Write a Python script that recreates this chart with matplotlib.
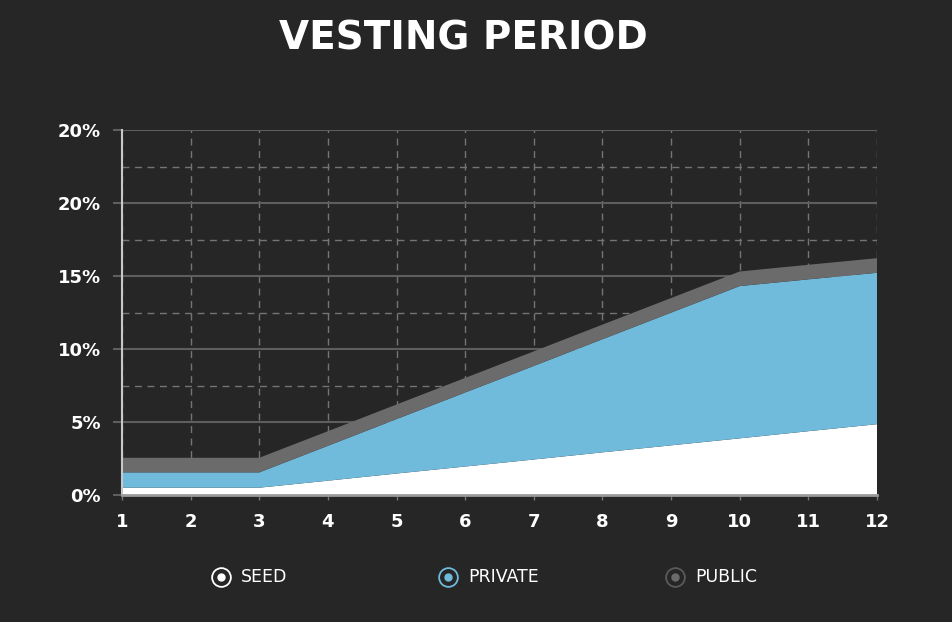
import matplotlib
matplotlib.use("Agg")
import matplotlib.pyplot as plt
from matplotlib.lines import Line2D
from matplotlib.ticker import MultipleLocator

months = [1, 2, 3, 4, 5, 6, 7, 8, 9, 10, 11, 12]
seed = [0.5, 0.5, 0.5, 0.98, 1.47, 1.95, 2.43, 2.92, 3.40, 3.88, 4.37, 4.85]
private = [1.05, 1.05, 1.05, 2.39, 3.73, 5.07, 6.41, 7.75, 9.09, 10.43, 10.40, 10.37]
public = [1.0, 1.0, 1.0, 1.0, 1.0, 1.0, 1.0, 1.0, 1.0, 1.0, 1.0, 1.0]
series_names = ["SEED", "PRIVATE", "PUBLIC"]
y_ticks = [0, 5, 10, 15, 20, 25]
y_labels = ["0%", "5%", "10%", "15%", "20%", "20%"]

BG = "#262626"
WHITE = "#ffffff"
BLUE = "#70badc"
GRAY = "#6b6b6b"

fig = plt.figure(figsize=(9.52, 6.22), dpi=100, facecolor=BG)
ax = fig.add_axes([122 / 952, 1 - 495 / 622, (877 - 122) / 952, (495 - 130) / 622])
ax.set_facecolor(BG)

ax.stackplot(months, seed, private, public, colors=[WHITE, BLUE, GRAY], linewidth=0, zorder=2)

ax.set_xlim(1, 12)
ax.set_ylim(0, 25)
ax.set_xticks(months)
ax.set_xticklabels([str(m) for m in months])
ax.set_yticks(y_ticks)
ax.set_yticklabels(y_labels)
ax.yaxis.set_minor_locator(MultipleLocator(2.5))

ax.set_axisbelow(True)
ax.grid(axis="y", which="major", color="#5e5e5e", linewidth=1.5, linestyle="-")
ax.grid(axis="y", which="minor", color="#747474", linewidth=1.0, linestyle=(0, (5, 4)))
ax.grid(axis="x", which="major", color="#747474", linewidth=1.0, linestyle=(0, (5, 4)))

for s in ["top", "right"]:
    ax.spines[s].set_visible(False)
ax.spines["left"].set_color("#c8c8c8")
ax.spines["left"].set_linewidth(1.5)
ax.spines["bottom"].set_color("#9a9a9a")
ax.spines["bottom"].set_linewidth(2)
ax.spines["left"].set_zorder(3)
ax.spines["bottom"].set_zorder(3)

ax.tick_params(axis="y", which="major", length=6.5, width=1.5, color="#5e5e5e", pad=8.5,
               labelsize=13, labelcolor=WHITE)
ax.tick_params(axis="y", which="minor", length=0)
ax.tick_params(axis="x", which="major", length=3.6, width=1, color="#747474", pad=9.5,
               labelsize=13, labelcolor=WHITE)
for lab in ax.get_xticklabels() + ax.get_yticklabels():
    lab.set_fontweight("bold")
    lab.set_fontfamily("DejaVu Sans")

fig.text(463 / 952, 1 - 38 / 622, "VESTING PERIOD", ha="center", va="center",
         color=WHITE, fontsize=28, fontweight="bold", family="DejaVu Sans")

# legend
leg_y = 1 - 577 / 622
ring_colors = [WHITE, BLUE, "#5a5a5a"]
dot_colors = [WHITE, BLUE, GRAY]
leg_x = [221, 448, 675]
for name, rc, dc, lx in zip(series_names, ring_colors, dot_colors, leg_x):
    fig.add_artist(Line2D([lx / 952], [leg_y], transform=fig.transFigure, marker="o",
                          markersize=13.5, markerfacecolor="none", markeredgecolor=rc,
                          markeredgewidth=1.3, linestyle="none"))
    fig.add_artist(Line2D([lx / 952], [leg_y], transform=fig.transFigure, marker="o",
                          markersize=5, markerfacecolor=dc, markeredgecolor=dc,
                          linestyle="none"))
    fig.text((lx + 20) / 952, leg_y, name, ha="left", va="center", color=WHITE,
             fontsize=12.5, family="DejaVu Sans")

fig.savefig("out.png", dpi=100, facecolor=BG)
